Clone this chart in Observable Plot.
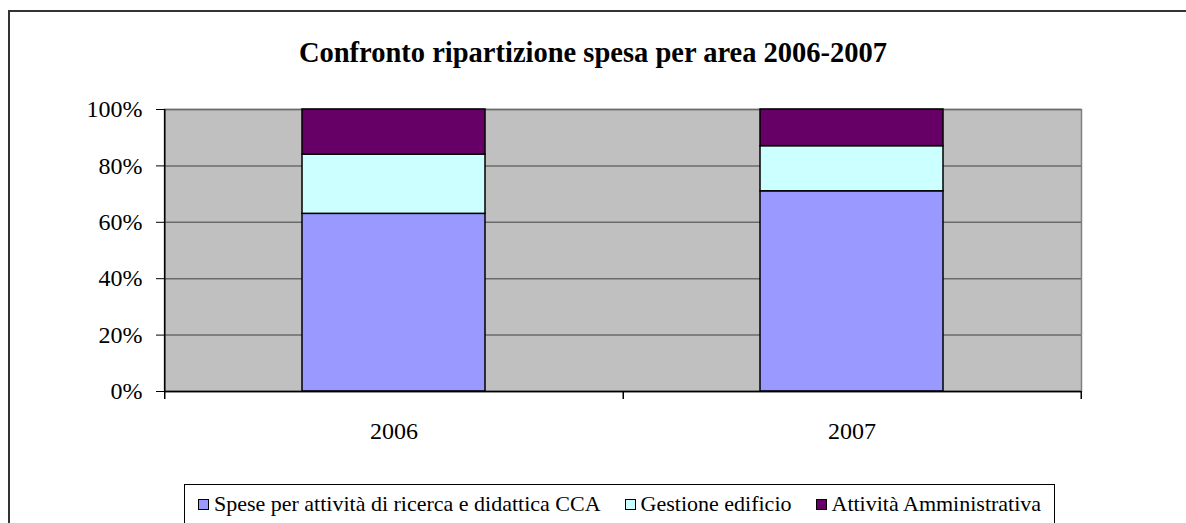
<!DOCTYPE html>
<html><head><meta charset="utf-8">
<script src="https://cdn.jsdelivr.net/npm/d3@7"></script>
<script src="https://cdn.jsdelivr.net/npm/@observablehq/plot@0.6"></script>
<style>
body{margin:0;background:#fff;font-family:"Liberation Serif","Times New Roman",serif;color:#000;}
#wrap{position:relative;width:1186px;height:523px;overflow:hidden;}
#border{position:absolute;left:8px;top:10px;width:1300px;height:700px;border:2px solid #333;box-sizing:border-box;pointer-events:none;}
#title{height:95px;box-sizing:border-box;padding-top:38px;line-height:30px;text-align:center;font-weight:bold;font-size:28.5px;}
#chart svg{display:block;}
#legend{margin-left:184px;width:871px;height:60px;box-sizing:border-box;border:1px solid #000;display:flex;justify-content:center;align-items:flex-start;padding-top:7px;font-size:22px;line-height:24px;}
.item{display:flex;align-items:center;margin:0 12px;}
.sw{width:9px;height:9px;border:1px solid #000;margin-right:5px;}
</style></head>
<body>
<div id="wrap">
<div id="border"></div>
<div id="title"></div>
<div id="chart"></div>
<div id="legend"></div>
</div>
<script>
const title = "Confronto ripartizione spesa per area 2006-2007";
const years = ["2006", "2007"];
const series = ["Spese per attività di ricerca e didattica CCA", "Gestione edificio", "Attività Amministrativa"];
const ricerca = [63, 71];
const gestione = [21, 16];
const amministrativa = [16, 13];
const colors = ["#9999FF", "#CCFFFF", "#660066"];
const yTicks = [0, 20, 40, 60, 80, 100];

const rows = [];
[ricerca, gestione, amministrativa].forEach((vals, si) =>
  years.forEach((yr, i) => rows.push({year: yr, series: series[si], value: vals[i]})));

const W = 1186, H = 389, mL = 164, mR = 105, mT = 14, mB = 93;
const step = (W - mL - mR) / years.length;

document.getElementById("title").textContent = title;

const chart = Plot.plot({
  width: W, height: H,
  marginLeft: mL, marginRight: mR, marginTop: mT, marginBottom: mB,
  style: {fontFamily: "'Liberation Serif', 'Times New Roman', serif", fontSize: "24px", color: "#000", background: "transparent"},
  x: {domain: years, paddingInner: 0.6, paddingOuter: 0.3, label: null},
  y: {domain: [0, 100], label: null},
  color: {domain: series, range: colors},
  marks: [
    Plot.frame({fill: "#C0C0C0", stroke: "#808080", strokeWidth: 1.5}),
    Plot.gridY(yTicks, {stroke: "#6b6b6b", strokeOpacity: 1, strokeWidth: 1.5}),
    Plot.barY(rows, {x: "year", y: "value", fill: "series", stroke: "#000", strokeWidth: 1.5}),
    Plot.axisY(yTicks, {tickFormat: d => d + "%", tickSize: 8, tickPadding: 14, fontSize: 24, label: null, stroke: "#000"}),
    Plot.axisX({tickSize: 0, tickPadding: 30, fontSize: 24, label: null}),
    Plot.ruleY([0], {stroke: "#000", strokeWidth: 1.5}),
    Plot.ruleX([years[0]], {x: d => d, dx: -step / 2, stroke: "#000", strokeWidth: 1.5, insetBottom: -8}),
    Plot.ruleX(years, {x: d => d, y1: 0, y2: 0, dx: step / 2, stroke: "#000", strokeWidth: 1.5, insetBottom: -8})
  ]
});
document.getElementById("chart").appendChild(chart);

const legend = document.getElementById("legend");
series.forEach((s, i) => {
  const it = document.createElement("div");
  it.className = "item";
  const sw = document.createElement("div");
  sw.className = "sw";
  sw.style.background = colors[i];
  const tx = document.createElement("span");
  tx.textContent = s;
  it.appendChild(sw); it.appendChild(tx);
  legend.appendChild(it);
});
</script>
</body></html>
